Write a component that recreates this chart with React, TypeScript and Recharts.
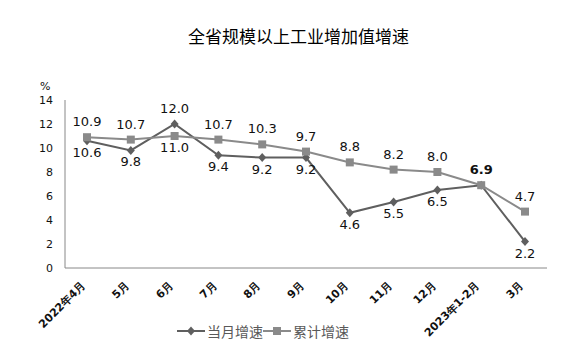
import { LineChart, Line, XAxis, YAxis } from 'recharts';

document.body.style.margin = '0';

const months = ['2022年4月', '5月', '6月', '7月', '8月', '9月', '10月', '11月', '12月', '2023年1-2月', '3月'];
const monthly = [10.6, 9.8, 12.0, 9.4, 9.2, 9.2, 4.6, 5.5, 6.5, 6.9, 2.2];
const cumulative = [10.9, 10.7, 11.0, 10.7, 10.3, 9.7, 8.8, 8.2, 8.0, 6.9, 4.7];
const yTicks = [0, 2, 4, 6, 8, 10, 12, 14];

const data = months.map((m, i) => ({ month: m, monthly: monthly[i], cumulative: cumulative[i] }));

const DARK = '#5f5f5f';
const LIGHT = '#8a8a8a';
const labelFont = '"DejaVu Sans", Verdana, sans-serif';

const Diamond = (props: any) => {
  const { cx, cy } = props;
  if (cx == null || cy == null) return null;
  return <path d={`M${cx},${cy - 4.5}L${cx + 4},${cy}L${cx},${cy + 4.5}L${cx - 4},${cy}Z`} fill={DARK} />;
};

const Square = (props: any) => {
  const { cx, cy } = props;
  if (cx == null || cy == null) return null;
  return <rect x={cx - 4} y={cy - 4} width={8} height={8} fill={LIGHT} />;
};

// monthly labels sit below the point, except where it is above the cumulative line
const monthlyLabel = (props: any) => {
  const { x, y, value, index } = props;
  if (index === 9) return null;
  const above = monthly[index] > cumulative[index];
  return (
    <text x={x} y={above ? y - 11 : y + 16} textAnchor="middle" fontSize={13} fontFamily={labelFont} fill="#111">
      {value.toFixed(1)}
    </text>
  );
};

const cumulativeLabel = (props: any) => {
  const { x, y, value, index } = props;
  const below = monthly[index] > cumulative[index];
  return (
    <text
      x={x}
      y={below ? y + 16 : y - 11}
      textAnchor="middle"
      fontSize={13}
      fontFamily={labelFont}
      fontWeight={index === 9 ? 'bold' : 'normal'}
      fill="#111"
    >
      {value.toFixed(1)}
    </text>
  );
};

const MonthTick = (props: any) => {
  const { x, y, payload } = props;
  const ax = x - 1;
  const ay = y + 10;
  return (
    <text
      x={ax}
      y={ay}
      transform={`rotate(-45, ${ax}, ${ay})`}
      textAnchor="end"
      fontSize={11}
      fontWeight="bold"
      fontFamily={labelFont}
      fill="#111"
    >
      {payload.value}
    </text>
  );
};

export default function App() {
  return (
    <div style={{ position: 'relative', width: 577, height: 361, background: '#fff' }}>
      <div
        style={{
          position: 'absolute',
          top: 25,
          left: 10,
          width: 577,
          textAlign: 'center',
          fontSize: 17,
          fontFamily: '"Noto Sans CJK SC", sans-serif',
          color: '#000',
          lineHeight: '22px',
        }}
      >
        全省规模以上工业增加值增速
      </div>
      <div style={{ position: 'absolute', top: 80, left: 40, fontSize: 11, fontFamily: labelFont, color: '#111' }}>%</div>
      <LineChart width={577} height={361} data={data} margin={{ top: 100, right: 30, bottom: 38, left: 0 }}>
        <XAxis
          dataKey="month"
          tick={<MonthTick />}
          tickLine={false}
          axisLine={{ stroke: '#888' }}
          height={55}
          interval={0}
          padding={{ left: 22, right: 22 }}
        />
        <YAxis
          domain={[0, 14]}
          ticks={yTicks}
          width={65}
          tickLine={false}
          axisLine={{ stroke: '#888' }}
          tickMargin={6}
          tick={{ fontSize: 11, fill: '#111', fontFamily: labelFont }}
        />
        <Line
          dataKey="monthly"
          stroke={DARK}
          strokeWidth={2}
          dot={<Diamond />}
          activeDot={false}
          label={monthlyLabel}
          isAnimationActive={false}
        />
        <Line
          dataKey="cumulative"
          stroke={LIGHT}
          strokeWidth={2}
          dot={<Square />}
          activeDot={false}
          label={cumulativeLabel}
          isAnimationActive={false}
        />
      </LineChart>
      <div
        style={{
          position: 'absolute',
          top: 321,
          left: 177,
          display: 'flex',
          alignItems: 'center',
          fontSize: 14,
          fontFamily: '"Noto Sans CJK SC", sans-serif',
          color: '#595959',
          lineHeight: '20px',
        }}
      >
        <svg width={28} height={12}>
          <line x1={0} y1={6} x2={28} y2={6} stroke={DARK} strokeWidth={2} />
          <path d="M14,1.5L18,6L14,10.5L10,6Z" fill={DARK} />
        </svg>
        <span style={{ marginLeft: 2 }}>当月增速</span>
        <svg width={28} height={12}>
          <line x1={0} y1={6} x2={28} y2={6} stroke={LIGHT} strokeWidth={2} />
          <rect x={10} y={2} width={8} height={8} fill={LIGHT} />
        </svg>
        <span style={{ marginLeft: 2 }}>累计增速</span>
      </div>
    </div>
  );
}
